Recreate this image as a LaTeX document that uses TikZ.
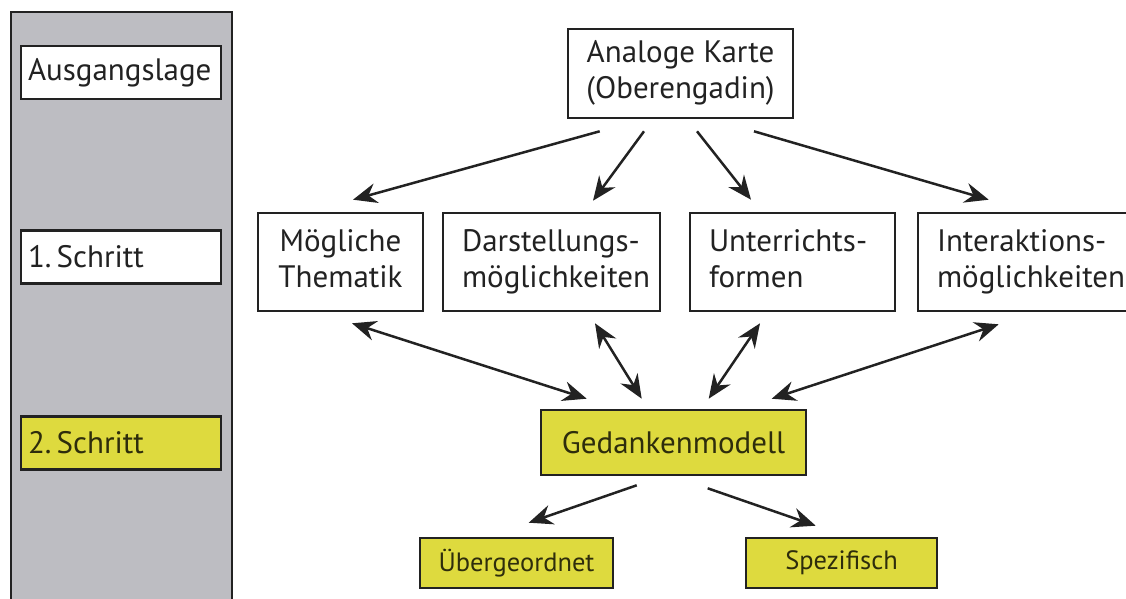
\documentclass[tikz,border=0pt]{standalone}
\usepackage{fontspec}
\setmainfont{PT Sans}
\usetikzlibrary{arrows.meta}

\definecolor{panelgray}{HTML}{BDBDC2}
\definecolor{stepyellow}{HTML}{DEDA3E}
\definecolor{ink}{HTML}{222222}
\definecolor{yellowink}{HTML}{2E2D0C}

\tikzset{
  box/.style={draw=ink, line width=2.6pt, fill=white, text=ink, inner ysep=0pt,
    font=\fontsize{31}{36}\selectfont},
  ybox/.style={box, fill=stepyellow, text=yellowink},
  smallbox/.style={ybox, minimum height=50pt, font=\fontsize{26.5}{31}\selectfont},
  sidebox/.style={minimum width=200pt, minimum height=53pt, inner xsep=7pt,
    text width=186pt, align=left},
  wordbox/.style={minimum height=98pt, inner xsep=19pt, align=left},
  head/.tip={Stealth[length=24pt,width=20pt,inset=8pt]},
  arr/.style={draw=ink, line width=2.5pt, -head},
  dbl/.style={draw=ink, line width=2.5pt, head-head},
}

\begin{document}
\begin{tikzpicture}[x=1pt,y=-1pt]
\useasboundingbox (0,0) rectangle (1126,599);
\clip (0,0) rectangle (1126,599);

% side column with the steps
\fill[panelgray] (11,12) rectangle (232,610);
\draw[ink, line width=2pt] (11,610) -- (11,12) -- (232,12) -- (232,610);

\node[box, sidebox] (aus) at (121,72.5) {Ausgangslage};
\node[box, sidebox] (s1) at (121,257) {1.\,Schritt};
\node[ybox, sidebox] (s2) at (121,443) {2.\,Schritt};

% map and its four aspects
\node[box, minimum width=225pt, minimum height=89pt, align=center]
  (karte) at (680.5,73.5) {\strut Analoge Karte\\\strut(Oberengadin)};

\node[box, minimum width=165pt, minimum height=98pt, align=center, text width=145pt, inner xsep=10pt]
  (them) at (340.5,262) {\strut Mögliche\\\strut Thematik};
\node[box, wordbox, minimum width=217pt, text width=179pt]
  (darst) at (551.5,262) {\strut Darstellungs-\\\strut möglichkeiten};
\node[box, wordbox, minimum width=205pt, text width=167pt]
  (unter) at (792.5,262) {\strut Unterrichts-\\\strut formen};
\node[box, wordbox, minimum width=217pt, text width=179pt]
  (inter) at (1026.5,262) {\strut Interaktions-\\\strut möglichkeiten};

% mental model and its two levels
\node[ybox, minimum width=265pt, minimum height=65pt] (ged) at (673.5,442.5) {Gedankenmodell};
\node[smallbox, minimum width=193pt] (ueber) at (516.5,563) {Übergeordnet};
\node[smallbox, minimum width=191pt] (spez) at (841.5,563) {Spezifisch};

% arrows from the map
\draw[arr] ([shift={(33,12)}]karte.south west) -- ([shift={(12.5,-12)}]them.north);
\draw[arr] ([shift={(-36.5,12)}]karte.south) -- ([shift={(41.5,-11)}]darst.north);
\draw[arr] ([shift={(16.5,12)}]karte.south) -- ([shift={(-41.5,-12)}]unter.north);
\draw[arr] ([shift={(73.5,12)}]karte.south) -- ([shift={(72,-12)}]inter.north west);

% two-way arrows to the mental model
\draw[dbl] ([shift={(11.5,11)}]them.south) -- ([shift={(47,-10)}]ged.north west);
\draw[dbl] ([shift={(43.5,11)}]darst.south) -- ([shift={(102,-10)}]ged.north west);
\draw[dbl] ([shift={(-32.5,11)}]unter.south) -- ([shift={(169,-10)}]ged.north west);
\draw[dbl] ([shift={(82,12)}]inter.south west) -- ([shift={(232,-10)}]ged.north west);

% arrows down to the two levels
\draw[arr] ([shift={(97,9)}]ged.south west) -- ([shift={(110,-14)}]ueber.north west);
\draw[arr] ([shift={(168,12)}]ged.south west) -- ([shift={(71,-11)}]spez.north west);
\end{tikzpicture}
\end{document}
